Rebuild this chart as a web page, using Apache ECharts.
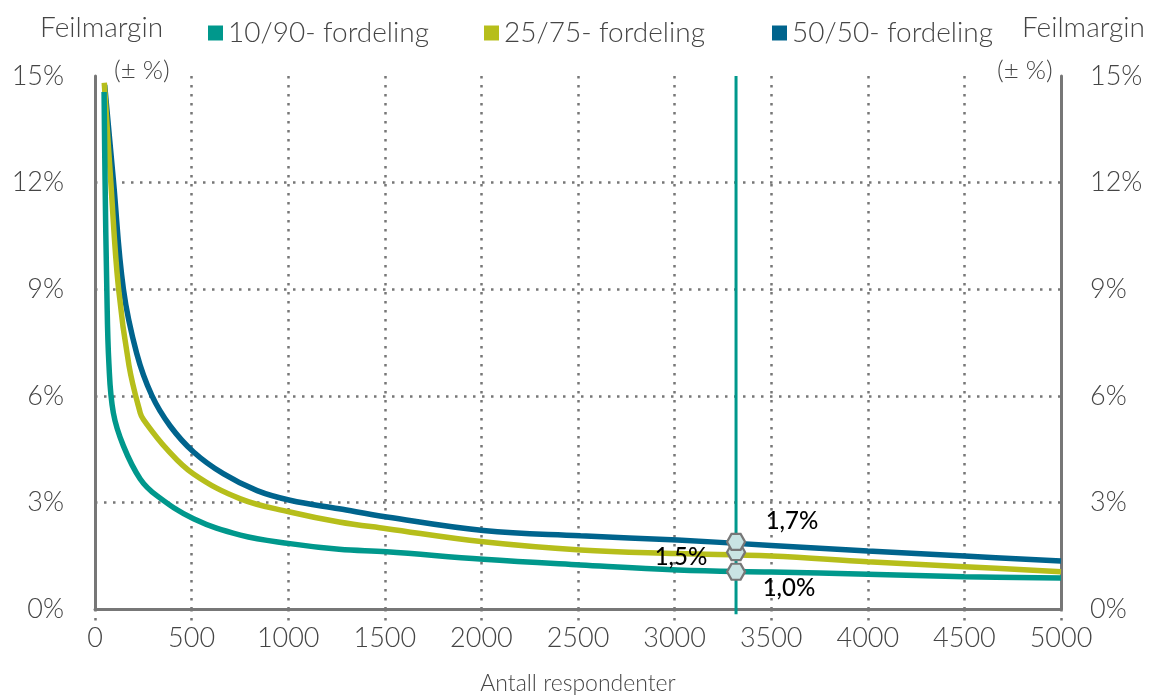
<!DOCTYPE html>
<html>
<head>
<meta charset="utf-8">
<script src="https://cdn.jsdelivr.net/npm/echarts@6/dist/echarts.min.js"></script>
<style>html,body{margin:0;padding:0;background:#fff}#c{width:1150px;height:700px}</style>
</head>
<body>
<div id="c"></div>
<script>
// ---- data ----
const seriesNames = ['10/90- fordeling', '25/75- fordeling', '50/50- fordeling'];
const xTicks = [0, 500, 1000, 1500, 2000, 2500, 3000, 3500, 4000, 4500, 5000];
const yTicks = [0, 3, 6, 9, 12, 15];

const nTeal  = [47, 52, 61, 72, 95, 147, 234, 320, 510, 753, 1009, 1263, 1510, 2010, 2513, 3015, 3500, 4000, 4500, 5000];
const teal   = [14.55, 12.1, 9.05, 6.9, 5.52, 4.59, 3.66, 3.19, 2.54, 2.08, 1.84, 1.68, 1.61, 1.40, 1.24, 1.10, 1.04, 0.98, 0.91, 0.87];

const nOlive = [48, 81, 121, 176, 234, 251, 372, 510, 753, 1009, 1263, 1510, 2010, 2513, 3015, 3500, 4000, 4500, 5000];
const olive  = [14.81, 12.08, 9.06, 6.85, 5.52, 5.33, 4.50, 3.80, 3.10, 2.73, 2.45, 2.26, 1.89, 1.66, 1.56, 1.49, 1.33, 1.19, 1.05];

const nBlue  = [50, 95, 147, 216, 294, 389, 510, 666, 839, 1009, 1263, 1510, 2010, 2513, 3015, 3500, 4000, 4500, 5000];
const blue   = [14.75, 12.08, 9.0, 7.19, 6.01, 5.15, 4.42, 3.80, 3.33, 3.06, 2.82, 2.59, 2.21, 2.06, 1.94, 1.79, 1.63, 1.49, 1.35];

const markerN = 3318;
const markerValues = [1.05, 1.60, 1.89];        // teal, olive, blue
const markerLabels = ['1,0%', '1,5%', '1,7%'];
const refLineRange = [-0.15, 15];

// ---- styling ----
const colors = ['#00988c', '#b6be1b', '#00648d'];
const grey = '#777777';
const txt = '#454545';
const font = 'Lato';

const zip = (xs, ys) => xs.map((x, i) => [x, ys[i]]);
const hexagon = 'path://M-1,0 L-0.5,-0.866 L0.5,-0.866 L1,0 L0.5,0.866 L-0.5,0.866 Z';

const chart = echarts.init(document.getElementById('c'), null, {renderer: 'canvas'});

const yAxisCommon = {
  type: 'value', min: 0, max: 15, interval: 3,
  axisLine: {show: true, lineStyle: {color: grey, width: 3}},
  axisTick: {show: false},
  axisLabel: {formatter: '{value}%', color: txt, fontFamily: font, fontWeight: 300, fontSize: 27, margin: 31},
  splitLine: {show: false}
};

const labelOffsets = [[53, 17], [-55, 5], [56, -21]];
const dotted = {color: grey, width: 2.5, type: [2.5, 6.5]};

const option = {
  animation: false,
  backgroundColor: '#ffffff',
  textStyle: {fontFamily: font},
  grid: {left: 95, right: 89, top: 76, bottom: 86, containLabel: false},
  legend: [0, 1, 2].map((i) => ({
    data: [seriesNames[i]],
    left: [203, 479, 767][i], top: 14,
    icon: 'rect', itemWidth: 15, itemHeight: 15, itemGap: 10,
    textStyle: {color: txt, fontFamily: font, fontWeight: 300, fontSize: 28},
    selectedMode: false
  })),
  graphic: [
    {type: 'text', left: 40, top: 14, style: {text: 'Feilmargin', fill: txt, font: '300 28px Lato'}},
    {type: 'text', left: 114, top: 58, style: {text: '(± %)', fill: txt, font: '300 26px Lato'}},
    {type: 'text', right: 5, top: 14, style: {text: 'Feilmargin', fill: txt, font: '300 28px Lato'}},
    {type: 'text', left: 997, top: 58, style: {text: '(± %)', fill: txt, font: '300 26px Lato'}}
  ],
  xAxis: {
    type: 'value', min: 0, max: 5000, interval: 500,
    name: 'Antall respondenter', nameLocation: 'middle', nameGap: 63,
    nameTextStyle: {color: txt, fontFamily: font, fontWeight: 300, fontSize: 23},
    axisLine: {show: true, lineStyle: {color: grey, width: 3}},
    axisTick: {show: true, length: 14, lineStyle: dotted},
    axisLabel: {color: txt, fontFamily: font, fontWeight: 300, fontSize: 27, margin: 16,
      formatter: (v) => String(v)},
    splitLine: {show: true, showMinLine: false, showMaxLine: false, lineStyle: dotted}
  },
  yAxis: [
    Object.assign({}, yAxisCommon, {position: 'left',
      splitLine: {show: true, showMinLine: false, showMaxLine: false, lineStyle: dotted}}),
    Object.assign({}, yAxisCommon, {position: 'right',
      axisLabel: Object.assign({}, yAxisCommon.axisLabel, {margin: 29})})
  ],
  series: [
    {name: seriesNames[0], type: 'line', data: zip(nTeal, teal), z: 5,
      showSymbol: false, smooth: 0.4,
      lineStyle: {color: colors[0], width: 5.5}, itemStyle: {color: colors[0]}},
    {name: seriesNames[1], type: 'line', data: zip(nOlive, olive), z: 4,
      showSymbol: false, smooth: 0.4,
      lineStyle: {color: colors[1], width: 5.5}, itemStyle: {color: colors[1]}},
    {name: seriesNames[2], type: 'line', data: zip(nBlue, blue), z: 3,
      showSymbol: false, smooth: 0.4,
      lineStyle: {color: colors[2], width: 5.5}, itemStyle: {color: colors[2]}},
    {name: 'ref', type: 'line', data: refLineRange.map((v) => [markerN, v]), z: 6, clip: false,
      showSymbol: false, lineStyle: {color: colors[0], width: 3}, silent: true},
    {name: 'markers', type: 'scatter', z: 7, symbol: hexagon, symbolSize: [18, 16],
      itemStyle: {color: '#c9e4e3', borderColor: grey, borderWidth: 2.2, opacity: 1},
      data: markerValues.map((v, i) => ({
        value: [markerN, v],
        label: {show: true, formatter: markerLabels[i], position: 'inside',
          offset: labelOffsets[i], color: '#000', fontFamily: font, fontWeight: 500, fontSize: 24}
      }))}
  ]
};
chart.setOption(option);
</script>
</body>
</html>
